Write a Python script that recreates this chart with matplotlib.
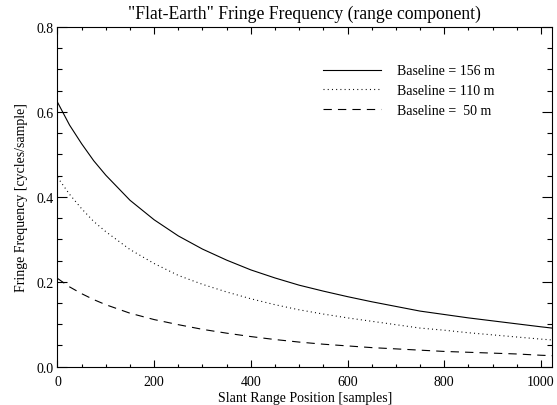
import numpy as np
import matplotlib.pyplot as plt
from matplotlib.ticker import MultipleLocator

# Slant range positions where values were read
x = [0, 25, 50, 75, 100, 150, 200, 250, 300, 350, 400, 450, 500,
     550, 600, 650, 700, 750, 800, 850, 900, 950, 1000, 1023]

# Fringe frequency [cycles/sample] for each baseline
f156 = [0.623, 0.569, 0.525, 0.485, 0.451, 0.392, 0.346, 0.308, 0.277, 0.251, 0.228, 0.209, 0.192,
        0.178, 0.165, 0.153, 0.142, 0.131, 0.123, 0.115, 0.108, 0.101, 0.094, 0.091]
f110 = [0.446, 0.406, 0.372, 0.342, 0.318, 0.276, 0.243, 0.215, 0.194, 0.176, 0.160, 0.146, 0.134,
        0.124, 0.115, 0.107, 0.099, 0.091, 0.086, 0.080, 0.075, 0.070, 0.065, 0.063]
f50 = [0.208, 0.188, 0.172, 0.158, 0.146, 0.126, 0.111, 0.099, 0.088, 0.079, 0.071, 0.064, 0.058,
       0.053, 0.049, 0.045, 0.042, 0.039, 0.036, 0.034, 0.032, 0.030, 0.027, 0.026]

labels = ["Baseline = 156 m", "Baseline = 110 m", "Baseline =  50 m"]

plt.rcParams['font.family'] = ['Liberation Serif', 'DejaVu Serif']

fig = plt.figure(figsize=(5.57, 4.06), dpi=100)
ax = fig.add_axes([0.1032, 0.0943, 0.8878, 0.8367])

lw = 0.8
ax.plot(x, f156, color='black', lw=lw, label=labels[0])
ax.plot(x, f110, color='black', lw=lw, linestyle=(0, (0.9, 2.9)), label=labels[1])
ax.plot(x, f50, color='black', lw=lw, linestyle=(0, (7.5, 5.5)), label=labels[2])

ax.set_xlim(0, 1023)
ax.set_ylim(0, 0.8)
ax.xaxis.set_major_locator(MultipleLocator(200))
ax.xaxis.set_minor_locator(MultipleLocator(50))
ax.yaxis.set_major_locator(MultipleLocator(0.2))
ax.yaxis.set_minor_locator(MultipleLocator(0.05))
ax.yaxis.set_major_formatter(lambda v, p: f"{v:.1f}")
ax.tick_params(axis='both', which='both', direction='in', top=True, right=True,
               labelsize=10, width=0.8)
ax.tick_params(axis='x', which='major', length=4.9, pad=6)
ax.tick_params(axis='x', which='minor', length=2.5)
ax.tick_params(axis='y', which='major', length=7.1, pad=3)
ax.tick_params(axis='y', which='minor', length=3.6)
for s in ax.spines.values():
    s.set_linewidth(0.8)

ax.set_title('"Flat-Earth" Fringe Frequency (range component)', fontsize=12.7, pad=6.5)
ax.set_xlabel("Slant Range Position [samples]", fontsize=10, labelpad=2)
ax.set_ylabel("Fringe Frequency [cycles/sample]", fontsize=10, labelpad=5.5)

ax.legend(loc='upper left', bbox_to_anchor=(0.537, 0.89), frameon=False, borderpad=0,
          borderaxespad=0, fontsize=10, handlelength=4.2, handletextpad=1.1,
          labelspacing=0.5)

fig.savefig("out.png", dpi=100)
